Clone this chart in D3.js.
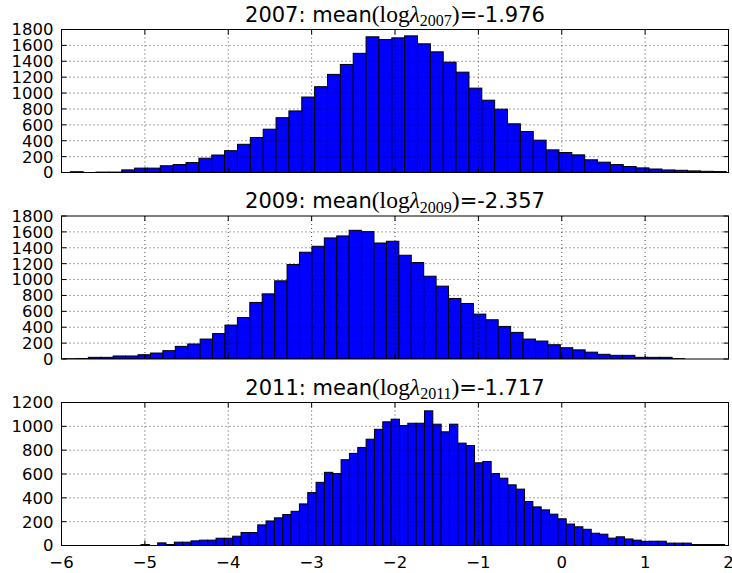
<!DOCTYPE html>
<html>
<head>
<meta charset="utf-8">
<script src="https://cdn.jsdelivr.net/npm/d3@7"></script>
<style>
  html, body { margin: 0; padding: 0; background: #ffffff; }
  svg { display: block; }
</style>
</head>
<body>
<script>
// Histograms of log(lambda) for three survey years
const years = ["2007", "2009", "2011"];
const meanLog = ["-1.976", "-2.357", "-1.717"];

// first and last bin edge of each histogram, in log(lambda) units
const binRange2007 = [-5.8945, 1.9717];
const binRange2009 = [-5.976, 1.4725];
const binRange2011 = [-5.0465, 1.9535];

const counts2007 = [10, 0, 5, 5, 33, 55, 55, 85, 100, 125,
  180, 220, 275, 355, 440, 545, 690, 775, 950, 1080,
  1235, 1360, 1500, 1708, 1674, 1695, 1720, 1620, 1519, 1389,
  1263, 1062, 910, 797, 613, 516, 407, 285, 252, 222,
  160, 130, 100, 75, 58, 44, 32, 28, 20, 15, 12];

const counts2009 = [3, 6, 21, 21, 38, 38, 54, 75, 105, 159,
  189, 251, 320, 427, 521, 712, 820, 984, 1189, 1344,
  1419, 1524, 1549, 1620, 1603, 1460, 1482, 1306, 1214, 1042,
  917, 762, 699, 565, 494, 410, 335, 251, 226, 180,
  142, 115, 86, 59, 46, 46, 21, 21, 21, 4];

const counts2011 = [8, 0, 22, 8, 28, 28, 39, 45, 45, 61,
  61, 78, 109, 109, 173, 206, 232, 260, 287, 349,
  444, 530, 614, 603, 720, 773, 823, 892, 975, 1038,
  1060, 1007, 1026, 1026, 1130, 1018, 954, 1018, 859, 839,
  694, 705, 604, 565, 509, 473, 369, 324, 299, 263,
  224, 180, 157, 136, 103, 95, 62, 73, 55, 45,
  35, 36, 36, 20, 20, 20, 8, 8, 8, 8];

const yTicks2007 = [0, 200, 400, 600, 800, 1000, 1200, 1400, 1600, 1800];
const yTicks2009 = [0, 200, 400, 600, 800, 1000, 1200, 1400, 1600, 1800];
const yTicks2011 = [0, 200, 400, 600, 800, 1000, 1200];
const xTicks = [-6, -5, -4, -3, -2, -1, 0, 1, 2];

const panels = [
  { year: years[0], mean: meanLog[0], range: binRange2007, counts: counts2007, yTicks: yTicks2007, top: 29.5 },
  { year: years[1], mean: meanLog[1], range: binRange2009, counts: counts2009, yTicks: yTicks2009, top: 216 },
  { year: years[2], mean: meanLog[2], range: binRange2011, counts: counts2011, yTicks: yTicks2011, top: 402.5 }
];

const W = 732, H = 573;
const left = 61.5, right = 728.5, panelH = 143;
const sans = "'DejaVu Sans', 'Bitstream Vera Sans', sans-serif";
const serif = "'Liberation Serif', 'DejaVu Serif', serif";

const svg = d3.select("body").append("svg")
  .attr("width", W).attr("height", H)
  .attr("viewBox", `0 0 ${W} ${H}`);
svg.append("rect").attr("width", W).attr("height", H).attr("fill", "#ffffff");

const x = d3.scaleLinear().domain([xTicks[0], xTicks[xTicks.length - 1]]).range([left, right]);

panels.forEach((p, pi) => {
  const bottom = p.top + panelH;
  const y = d3.scaleLinear().domain([0, d3.max(p.yTicks)]).range([bottom, p.top]);
  const g = svg.append("g");

  const clipId = "clip" + pi;
  svg.append("defs").append("clipPath").attr("id", clipId)
    .append("rect").attr("x", left).attr("y", p.top).attr("width", right - left).attr("height", panelH);

  // histogram bars
  const n = p.counts.length;
  const step = (p.range[1] - p.range[0]) / n;
  const bins = p.counts.map((c, i) => ({ x0: p.range[0] + i * step, x1: p.range[0] + (i + 1) * step, c }));
  g.append("g").attr("clip-path", `url(#${clipId})`)
    .selectAll("rect").data(bins).join("rect")
    .attr("x", d => x(d.x0))
    .attr("width", d => x(d.x1) - x(d.x0))
    .attr("y", d => y(d.c))
    .attr("height", d => y(0) - y(d.c))
    .attr("fill", "#0000ff")
    .attr("stroke", "#000000")
    .attr("stroke-width", 1);

  // dotted grid
  const grid = g.append("g").attr("stroke", "#000").attr("stroke-width", 0.7)
    .attr("stroke-dasharray", "1,3").attr("fill", "none");
  xTicks.slice(1, -1).forEach(t => {
    grid.append("line").attr("x1", x(t)).attr("x2", x(t)).attr("y1", p.top).attr("y2", bottom);
  });
  p.yTicks.slice(1, -1).forEach(t => {
    grid.append("line").attr("x1", left).attr("x2", right).attr("y1", y(t)).attr("y2", y(t));
  });

  // inward ticks on all four sides
  const tk = g.append("g").attr("stroke", "#000").attr("stroke-width", 1);
  xTicks.forEach(t => {
    tk.append("line").attr("x1", x(t)).attr("x2", x(t)).attr("y1", bottom).attr("y2", bottom - 5);
    tk.append("line").attr("x1", x(t)).attr("x2", x(t)).attr("y1", p.top).attr("y2", p.top + 5);
  });
  p.yTicks.forEach(t => {
    tk.append("line").attr("x1", left).attr("x2", left + 5).attr("y1", y(t)).attr("y2", y(t));
    tk.append("line").attr("x1", right).attr("x2", right - 5).attr("y1", y(t)).attr("y2", y(t));
  });

  // frame
  g.append("rect").attr("x", left).attr("y", p.top).attr("width", right - left).attr("height", panelH)
    .attr("fill", "none").attr("stroke", "#000").attr("stroke-width", 1);

  // y tick labels
  g.append("g").selectAll("text").data(p.yTicks).join("text")
    .attr("x", left - 8).attr("y", d => y(d))
    .attr("dy", "0.36em")
    .attr("text-anchor", "end")
    .attr("font-family", sans).attr("font-size", 16.5).attr("fill", "#000")
    .text(d => d);

  // x tick labels on the bottom panel only
  if (pi === panels.length - 1) {
    g.append("g").selectAll("text").data(xTicks).join("text")
      .attr("x", d => x(d)).attr("y", bottom + 22.5)
      .attr("text-anchor", "middle")
      .attr("font-family", sans).attr("font-size", 16.5).attr("fill", "#000")
      .text(d => d < 0 ? "\u2212" + Math.abs(d) : String(d));
  }

  // title: "YEAR: mean(log λ_YEAR)=value"
  const title = g.append("text")
    .attr("x", (left + right) / 2).attr("y", p.top - 8)
    .attr("text-anchor", "middle").attr("fill", "#000")
    .attr("font-family", sans).attr("font-size", 21);
  title.append("tspan").text(p.year + ": mean");
  title.append("tspan").attr("font-family", serif).attr("font-size", 23.5).text("(log");
  title.append("tspan").attr("font-family", serif).attr("font-size", 23.5).attr("font-style", "italic").text("\u03bb");
  title.append("tspan").attr("font-family", serif).attr("font-size", 16).attr("dy", 4.5).text(p.year);
  title.append("tspan").attr("font-family", serif).attr("font-size", 23.5).attr("dy", -4.5).text(")");
  title.append("tspan").text("=" + p.mean);
});
</script>
</body>
</html>
